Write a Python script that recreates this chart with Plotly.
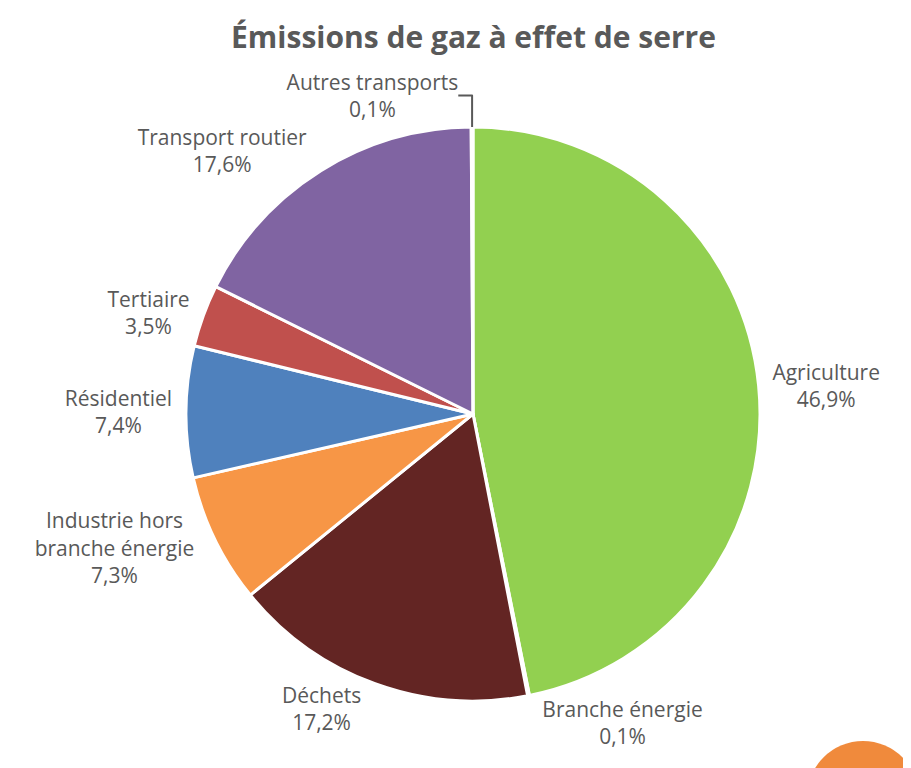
import plotly.graph_objects as go

labels = ["Agriculture", "Branche énergie", "Déchets", "Industrie hors<br>branche énergie",
          "Résidentiel", "Tertiaire", "Transport routier", "Autres transports"]
values = [46.9, 0.1, 17.2, 7.3, 7.4, 3.5, 17.6, 0.1]
pct_text = ["46,9%", "0,1%", "17,2%", "7,3%", "7,4%", "3,5%", "17,6%", "0,1%"]
colors = ["#92D050", "#FFFFFF", "#632523", "#F79646", "#4F81BD", "#C0504D", "#8064A2", "#FFFFFF"]

W, H = 911, 768
cx, cy, r = 465, 406, 287

fig = go.Figure(go.Pie(
    labels=labels,
    values=values,
    text=[f"{l}<br>{p}" for l, p in zip(labels, pct_text)],
    textinfo="text",
    textposition="outside",
    sort=False,
    direction="clockwise",
    rotation=0,
    marker=dict(colors=colors, line=dict(color="white", width=3)),
    outsidetextfont=dict(family="Open Sans", size=21, color="#595959"),
    showlegend=False,
    domain=dict(x=[(cx - r) / W, (cx + r) / W], y=[1 - (cy + r) / H, 1 - (cy - r) / H]),
    hoverinfo="skip",
))

fig.update_layout(
    width=W, height=H,
    margin=dict(l=0, r=0, t=0, b=0),
    paper_bgcolor="white",
    title=dict(text="<b>Émissions de gaz à effet de serre</b>", x=0.511, xanchor="center",
               y=1 - 29 / H, yanchor="middle",
               font=dict(family="Open Sans", size=30, color="#595959")),
    shapes=[dict(type="circle", xref="paper", yref="paper",
                 x0=(855 - 56) / W, x1=(855 + 56) / W, y0=1 - (789 + 56) / H, y1=1 - (789 - 56) / H,
                 fillcolor="#F08A3C", line=dict(width=0))],
)

fig.write_html("out.html")
